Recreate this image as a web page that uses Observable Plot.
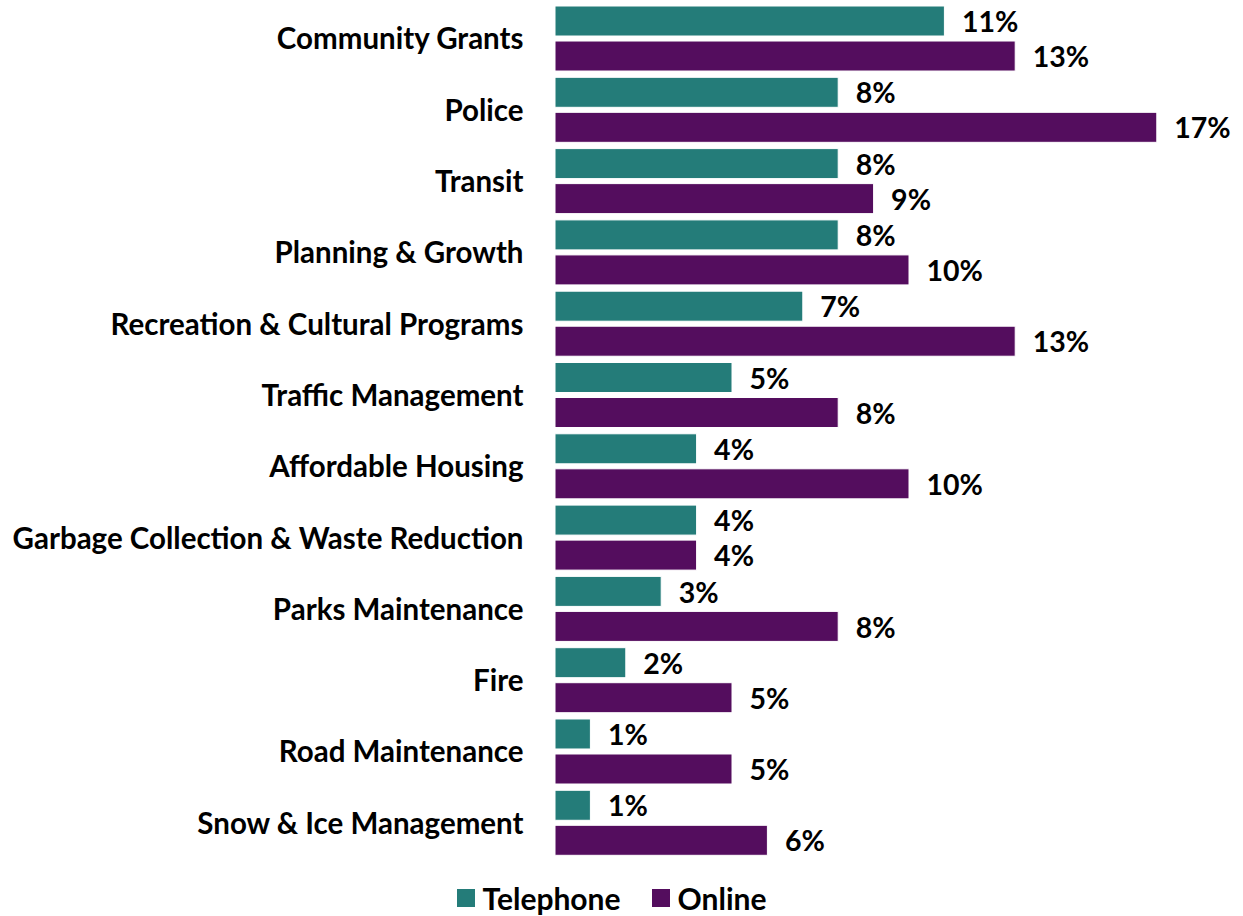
<!DOCTYPE html>
<html>
<head>
<meta charset="utf-8">
<script src="https://cdn.jsdelivr.net/npm/d3@7"></script>
<script src="https://cdn.jsdelivr.net/npm/@observablehq/plot@0.6"></script>
<style>
  html, body { margin: 0; padding: 0; background: #fff; }
  body { width: 1243px; height: 916px; overflow: hidden; font-family: Lato, "Open Sans", sans-serif; }
  #legend { display: flex; justify-content: center; align-items: center; gap: 31px; font-weight: 700; font-size: 30px; line-height: 32px; color: #000; margin-top: 10px; padding-right: 20px; }
  #legend .item { display: flex; align-items: center; gap: 8px; }
  #legend .sw { width: 18px; height: 18px; display: inline-block; }
</style>
</head>
<body>
<div id="chart"></div>
<div id="legend"></div>
<script>
const categories = [
  "Community Grants", "Police", "Transit", "Planning & Growth",
  "Recreation & Cultural Programs", "Traffic Management", "Affordable Housing",
  "Garbage Collection & Waste Reduction", "Parks Maintenance", "Fire",
  "Road Maintenance", "Snow & Ice Management"
];
const series = ["Telephone", "Online"];
const telephone = [11, 8, 8, 8, 7, 5, 4, 4, 3, 2, 1, 1];
const online = [13, 17, 9, 10, 13, 8, 10, 4, 8, 5, 5, 6];
const colors = ["#247C79", "#540D5E"];

const data = [];
categories.forEach((c, i) => {
  data.push({category: c, series: "Telephone", value: telephone[i]});
  data.push({category: c, series: "Online", value: online[i]});
});

const pxPerUnit = 35.4;
const x0 = 555;
const chart = Plot.plot({
  width: 1243,
  height: 872,
  marginTop: 6,
  marginBottom: 16.7,
  marginLeft: x0,
  marginRight: 0,
  style: {fontFamily: "Lato, 'Open Sans', sans-serif", fontWeight: 700, fontSize: "28px", color: "#000", background: "#fff"},
  x: {domain: [0, 19], range: [x0, x0 + 19 * pxPerUnit], axis: null},
  y: {domain: series, paddingInner: 0.143, paddingOuter: 0, round: false, axis: null},
  fy: {domain: categories, paddingInner: 0.088, paddingOuter: 0, round: false, label: null},
  color: {domain: series, range: colors},
  marks: [
    Plot.axisFy({anchor: "left", tickSize: 0, tickPadding: 32, dy: 1, label: null, fontSize: 29.5, fontWeight: 700, fill: "#000"}),
    Plot.barX(data, {fy: "category", y: "series", x: "value", fill: "series", stroke: "#fff", strokeWidth: 1}),
    Plot.text(data, {fy: "category", y: "series", x: "value", text: d => d.value + "%", textAnchor: "start", dx: 17, dy: 1.5, fontSize: 28.5, fontWeight: 700, fill: "#000"})
  ]
});
document.getElementById("chart").appendChild(chart);

const legend = document.getElementById("legend");
series.forEach((s, i) => {
  const item = document.createElement("span");
  item.className = "item";
  const sw = document.createElement("span");
  sw.className = "sw";
  sw.style.background = colors[i];
  item.appendChild(sw);
  item.appendChild(document.createTextNode(s));
  legend.appendChild(item);
});
</script>
</body>
</html>
